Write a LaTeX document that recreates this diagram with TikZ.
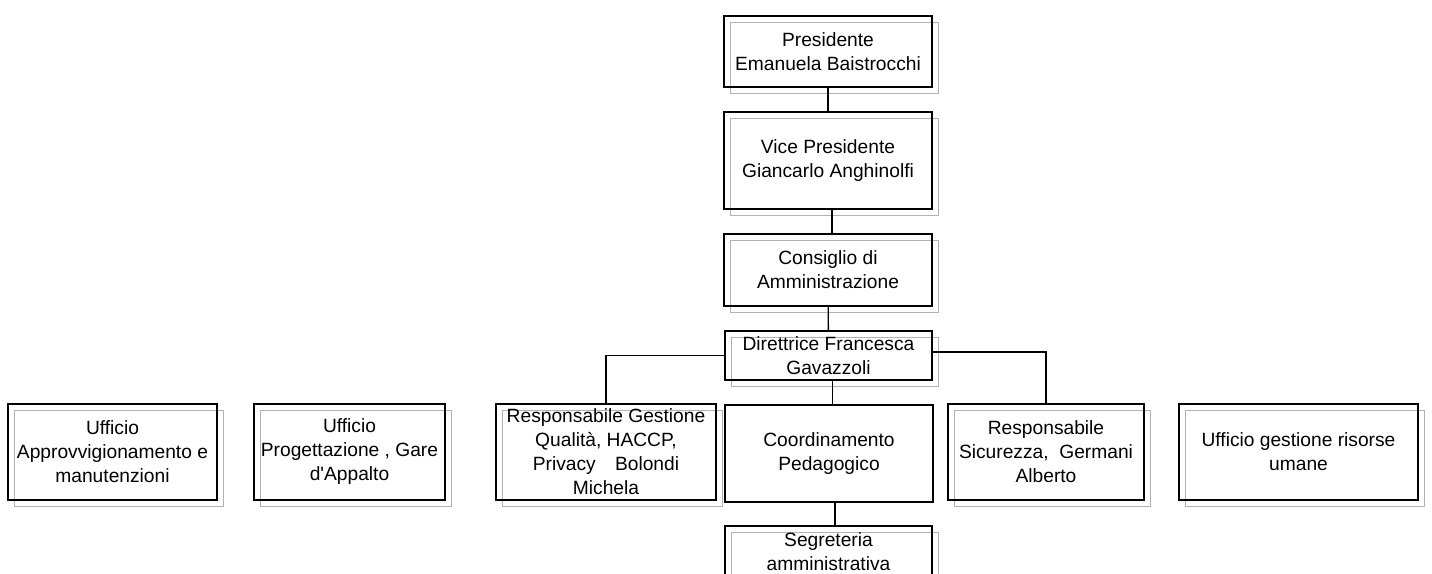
\documentclass[tikz,border=0pt]{standalone}
\usepackage{fontspec}
\setmainfont{Liberation Sans}
\usetikzlibrary{positioning,shadows}

\begin{document}
\begin{tikzpicture}[x=0.75pt,y=-0.75pt,
    unit/.style={rectangle, draw, line width=1pt, inner sep=2pt, align=center, font=\fontsize{14.4}{18}\selectfont},
    post/.style={unit, drop shadow={shadow xshift=5pt, shadow yshift=-5pt, fill=none, draw=black!30, line width=1.2pt, opacity=1}},
    link/.style={draw, line width=1pt}]
    \clip (0,0) rectangle (1432,574);
    % vertical chain
    \node(pres) [post, minimum width=156pt, minimum height=53.25pt] at (828,51.5) {Presidente\\Emanuela Baistrocchi};
    \node(vice) [post, minimum width=156pt, minimum height=72.75pt] at (828,160.5) {Vice Presidente\\Giancarlo Anghinolfi};
    \node(cda) [post, minimum width=156pt, minimum height=54pt] at (828,270) {Consiglio di\\Amministrazione};
    \node(dir) [post, minimum width=155.25pt, minimum height=36.75pt] at (828.5,355.5) {Direttrice Francesca\\Gavazzoli};
    \node(coord) [unit, minimum width=156pt, minimum height=72.75pt] at (829,453.5) {Coordinamento\\Pedagogico};
    \node(segr) [post, minimum width=155.25pt, minimum height=39pt] at (828.5,552) {Segreteria\\amministrativa};
    % row of offices
    \node(uapp) [post, minimum width=156.75pt, minimum height=72pt] at (112.5,452) {Ufficio\\Approvvigionamento e\\manutenzioni};
    \node(uprog) [post, minimum width=143.25pt, minimum height=72pt] at (349.5,452) {Ufficio\\Progettazione , Gare\\d\textquotesingle Appalto};
    \node(resq) [post, minimum width=165pt, minimum height=72pt] at (606,452) {Responsabile Gestione\\Qualità, HACCP,\\Privacy\quad Bolondi\\Michela};
    \node(rsic) [post, minimum width=147pt, minimum height=72pt] at (1046,452) {Responsabile\\Sicurezza,\ \ Germani\\Alberto};
    \node(uris) [post, minimum width=179.25pt, minimum height=72pt] at (1298.5,452) {Ufficio gestione risorse\\umane};

    \path[link] (pres) -- (vice);
    \path[link] ([xshift=3pt]vice.south) -- ([xshift=3pt]vice.south |- cda.north);
    \path[link] (cda) -- (dir);
    \path[link] (dir.west) -| (resq.north);
    \path[link] ([yshift=2.6pt]dir.east) -| (rsic.north);
    \path[link] ([xshift=3pt]dir.south) -- ([xshift=3pt]dir.south |- coord.north);
    \path[link] ([xshift=4.5pt]coord.south) -- ([xshift=4.5pt]coord.south |- segr.north);
\end{tikzpicture}
\end{document}
